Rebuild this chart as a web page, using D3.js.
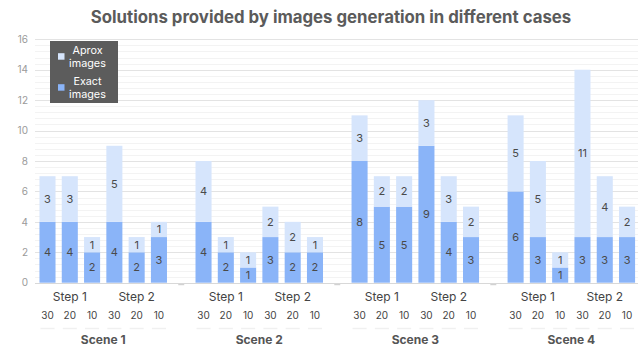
<!DOCTYPE html>
<html>
<head>
<meta charset="utf-8">
<script src="https://cdn.jsdelivr.net/npm/d3@7/dist/d3.min.js"></script>
<style>
  html, body { margin: 0; padding: 0; background: #fff; }
  svg { display: block; font-family: Inter, Roboto, "Noto Sans", sans-serif; }
</style>
</head>
<body>
<svg id="chart" width="644" height="348"></svg>
<script>
// Chart data
const scenes = ["Scene 1", "Scene 2", "Scene 3", "Scene 4"];
const steps = ["Step 1", "Step 2"];
const sizes = ["30", "20", "10"];
// Per scene: Step 1 (30, 20, 10), Step 2 (30, 20, 10)
const exactImages = [
  [4, 4, 2, 4, 2, 3],
  [4, 2, 1, 3, 2, 2],
  [8, 5, 5, 9, 4, 3],
  [6, 3, 1, 3, 3, 3]
];
const aproxImages = [
  [3, 3, 1, 5, 1, 1],
  [4, 1, 1, 2, 2, 1],
  [3, 2, 2, 3, 3, 2],
  [5, 5, 1, 11, 4, 2]
];
const yTicks = [0, 2, 4, 6, 8, 10, 12, 14, 16];
const seriesNames = ["Aprox images", "Exact images"];

const colors = { exact: "#8ab4f8", aprox: "#d6e5fc" };

const svg = d3.select("#chart");

// Flat list of slots: 6 bars per scene, one empty slot between scenes
const slots = [];
const bars = [];
scenes.forEach((sc, si) => {
  steps.forEach((st, ti) => {
    sizes.forEach((sz, zi) => {
      const key = `${si}-${ti}-${zi}`;
      const idx = ti * 3 + zi;
      slots.push(key);
      bars.push({
        key, scene: si, step: ti, size: sz,
        exact: exactImages[si][idx], aprox: aproxImages[si][idx]
      });
    });
  });
  if (si < scenes.length - 1) slots.push(`gap-${si}`);
});

const x = d3.scaleBand()
  .domain(slots)
  .range([36.35, 638.2])
  .paddingInner(0.28)
  .paddingOuter(0.14);

const y = d3.scaleLinear().domain([0, 16]).range([282.7, 39.3]);

// Title
svg.append("text")
  .attr("x", 331).attr("y", 22.5)
  .attr("text-anchor", "middle")
  .attr("font-size", 16.8).attr("font-weight", 700)
  .attr("fill", "#5b5b5b")
  .text("Solutions provided by images generation in different cases");

// Grid: minor lines every 0.4, major every 2
const grid = svg.append("g");
const minor = d3.range(0, 16.001, 0.4).filter(v => Math.abs(v / 2 - Math.round(v / 2)) > 1e-6);
grid.selectAll("line.minor").data(minor).join("line")
  .attr("x1", 35).attr("x2", 638)
  .attr("y1", d => Math.round(y(d)) + 0.5).attr("y2", d => Math.round(y(d)) + 0.5)
  .attr("stroke", "#f3f3f3").attr("stroke-width", 1);
grid.selectAll("line.major").data(yTicks).join("line")
  .attr("x1", 35).attr("x2", 638)
  .attr("y1", d => Math.round(y(d)) + 0.5).attr("y2", d => Math.round(y(d)) + 0.5)
  .attr("stroke", d => d === 0 ? "#d8d8d8" : "#e3e3e3").attr("stroke-width", 1);

// Y axis labels
const yAxis = d3.axisLeft(y).tickValues(yTicks).tickSize(0).tickPadding(0);
const yg = svg.append("g").attr("transform", "translate(28,0)").call(yAxis);
yg.select(".domain").remove();
yg.selectAll("text")
  .attr("font-family", "Inter, Roboto, sans-serif")
  .attr("font-size", 10).attr("fill", "#9a9a9a");

// Bars
const bg = svg.append("g");
bg.selectAll("rect.exact").data(bars).join("rect")
  .attr("x", d => x(d.key)).attr("width", x.bandwidth())
  .attr("y", d => y(d.exact)).attr("height", d => y(0) - y(d.exact))
  .attr("fill", colors.exact);
bg.selectAll("rect.aprox").data(bars).join("rect")
  .attr("x", d => x(d.key)).attr("width", x.bandwidth())
  .attr("y", d => y(d.exact + d.aprox)).attr("height", d => y(d.exact) - y(d.exact + d.aprox))
  .attr("fill", colors.aprox);

// Value labels centred in each segment
const lab = svg.append("g")
  .attr("font-size", 11).attr("fill", "#4a4a4a").attr("text-anchor", "middle");
lab.selectAll("text.exact").data(bars).join("text")
  .attr("x", d => x(d.key) + x.bandwidth() / 2)
  .attr("y", d => y(d.exact / 2) + 4)
  .text(d => d.exact);
lab.selectAll("text.aprox").data(bars).join("text")
  .attr("x", d => x(d.key) + x.bandwidth() / 2)
  .attr("y", d => y(d.exact + d.aprox / 2) + 4)
  .text(d => d.aprox);

// Small marks in the empty slots between scenes
svg.selectAll("path.gapmark").data(slots.filter(s => s.startsWith("gap"))).join("path")
  .attr("d", d => {
    const cx = x(d) + x.bandwidth() / 2;
    return `M${cx - 3},${y(0) + 2} L${cx + 3},${y(0) + 2}`;
  })
  .attr("stroke", "#c8c8c8").attr("stroke-width", 1);

// Size labels under each bar
svg.append("g").selectAll("text").data(bars).join("text")
  .attr("x", d => x(d.key) + x.bandwidth() / 2)
  .attr("y", 318.5)
  .attr("text-anchor", "middle")
  .attr("font-size", 10).attr("fill", "#444")
  .text(d => d.size);

// Faint rules under the size labels
svg.append("g").selectAll("line").data(bars).join("line")
  .attr("x1", d => x(d.key) + 1).attr("x2", d => x(d.key) + x.bandwidth() - 1)
  .attr("y1", 328.5).attr("y2", 328.5)
  .attr("stroke", "#f0f0f0").attr("stroke-width", 1.5);

// Step labels
const stepLabels = [];
scenes.forEach((sc, si) => steps.forEach((st, ti) => stepLabels.push({ si, ti, st })));
svg.append("g").selectAll("text").data(stepLabels).join("text")
  .attr("x", d => x(`${d.si}-${d.ti}-1`) + x.bandwidth() / 2)
  .attr("y", 301)
  .attr("text-anchor", "middle")
  .attr("font-size", 12).attr("fill", "#444")
  .text(d => d.st);

// Scene labels
svg.append("g").selectAll("text").data(scenes).join("text")
  .attr("x", (d, i) => (x(`${i}-0-2`) + x(`${i}-1-0`) + x.bandwidth()) / 2)
  .attr("y", 343.5)
  .attr("text-anchor", "middle")
  .attr("font-size", 12).attr("font-weight", 700).attr("fill", "#555")
  .text(d => d);

// Legend
const lg = svg.append("g");
lg.append("rect").attr("x", 50).attr("y", 41).attr("width", 68).attr("height", 62)
  .attr("fill", "#5c5c5c");
const legendItems = [
  { color: colors.aprox, lines: seriesNames[0].split(" "), cy: 56.5 },
  { color: colors.exact, lines: seriesNames[1].split(" "), cy: 87.5 }
];
legendItems.forEach(it => {
  lg.append("rect").attr("x", 58).attr("y", it.cy - 3.3).attr("width", 6.5).attr("height", 6.5)
    .attr("fill", it.color);
  it.lines.forEach((t, i) => {
    lg.append("text").attr("x", 87.5).attr("y", it.cy - 2.2 + i * 12.2)
      .attr("text-anchor", "middle").attr("font-size", 10.8).attr("fill", "#fff")
      .text(t);
  });
});
</script>
</body>
</html>
